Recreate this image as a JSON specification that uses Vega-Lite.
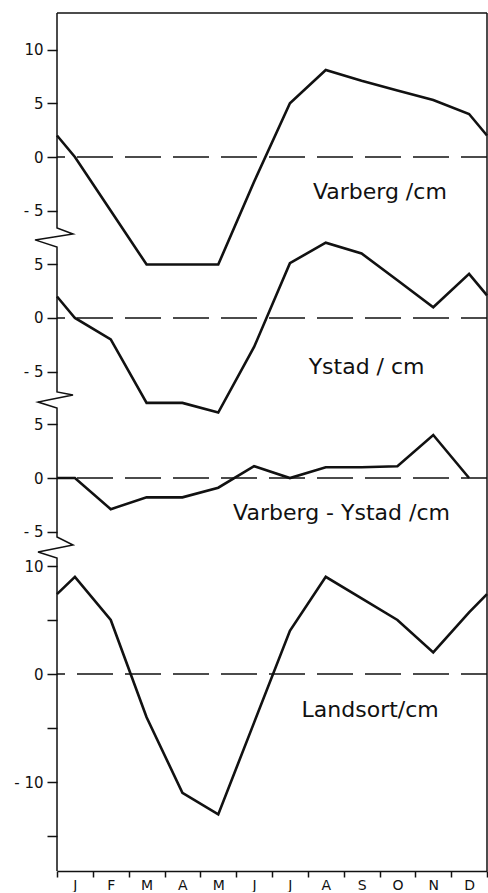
{
  "$schema": "https://vega.github.io/schema/vega-lite/v6.json",
  "background": "white",
  "padding": {"left": 5, "top": 10, "right": 0, "bottom": 0},
  "spacing": 0,
  "bounds": "flush",
  "config": {
    "view": {"stroke": null},
    "axis": {"labelFont": "DejaVu Sans", "labelColor": "#111", "labelFontSize": 15, "domainColor": "#111", "tickColor": "#111", "tickWidth": 1.5, "domainWidth": 1.5, "grid": false, "labelOverlap": false},
    "axisX": {"labelOverlap": false, "labelFontSize": 14},
    "axisY": {"labelFontSize": 15}
  },
  "resolve": {"scale": {"x": "independent", "y": "independent"}, "axis": {"x": "independent", "y": "independent"}},
  "datasets": {
    "series": [
      {"s": "Varberg", "m": 0, "v": 2}, {"s": "Varberg", "m": 0.5, "v": 0}, {"s": "Varberg", "m": 1.5, "v": -5}, {"s": "Varberg", "m": 2.5, "v": -10}, {"s": "Varberg", "m": 3.5, "v": -10}, {"s": "Varberg", "m": 4.5, "v": -10}, {"s": "Varberg", "m": 5.5, "v": -2.3}, {"s": "Varberg", "m": 6.5, "v": 5}, {"s": "Varberg", "m": 7.5, "v": 8.1}, {"s": "Varberg", "m": 8.5, "v": 7.1}, {"s": "Varberg", "m": 9.5, "v": 6.2}, {"s": "Varberg", "m": 10.5, "v": 5.3}, {"s": "Varberg", "m": 11.5, "v": 4}, {"s": "Varberg", "m": 12, "v": 2},
      {"s": "Ystad", "m": 0, "v": 2}, {"s": "Ystad", "m": 0.5, "v": 0}, {"s": "Ystad", "m": 1.5, "v": -2}, {"s": "Ystad", "m": 2.5, "v": -7.9}, {"s": "Ystad", "m": 3.5, "v": -7.9}, {"s": "Ystad", "m": 4.5, "v": -8.8}, {"s": "Ystad", "m": 5.5, "v": -2.7}, {"s": "Ystad", "m": 6.5, "v": 5.1}, {"s": "Ystad", "m": 7.5, "v": 7}, {"s": "Ystad", "m": 8.5, "v": 6}, {"s": "Ystad", "m": 9.5, "v": 3.5}, {"s": "Ystad", "m": 10.5, "v": 1}, {"s": "Ystad", "m": 11.5, "v": 4.1}, {"s": "Ystad", "m": 12, "v": 2.1},
      {"s": "VY", "m": 0, "v": 0}, {"s": "VY", "m": 0.5, "v": 0}, {"s": "VY", "m": 1.5, "v": -2.9}, {"s": "VY", "m": 2.5, "v": -1.8}, {"s": "VY", "m": 3.5, "v": -1.8}, {"s": "VY", "m": 4.5, "v": -0.9}, {"s": "VY", "m": 5.5, "v": 1.1}, {"s": "VY", "m": 6.5, "v": 0}, {"s": "VY", "m": 7.5, "v": 1}, {"s": "VY", "m": 8.5, "v": 1}, {"s": "VY", "m": 9.5, "v": 1.1}, {"s": "VY", "m": 10.5, "v": 4}, {"s": "VY", "m": 11.5, "v": 0},
      {"s": "Landsort", "m": 0, "v": 7.4}, {"s": "Landsort", "m": 0.5, "v": 9}, {"s": "Landsort", "m": 1.5, "v": 5}, {"s": "Landsort", "m": 2.5, "v": -4}, {"s": "Landsort", "m": 3.5, "v": -11}, {"s": "Landsort", "m": 4.5, "v": -13}, {"s": "Landsort", "m": 5.5, "v": -4.5}, {"s": "Landsort", "m": 6.5, "v": 4}, {"s": "Landsort", "m": 7.5, "v": 9}, {"s": "Landsort", "m": 8.5, "v": 7}, {"s": "Landsort", "m": 9.5, "v": 5}, {"s": "Landsort", "m": 10.5, "v": 2}, {"s": "Landsort", "m": 11.5, "v": 5.7}, {"s": "Landsort", "m": 12, "v": 7.4}
    ],
    "frame": [
      {"p": 1, "i": 0, "m": 0, "v": 13.4}, {"p": 1, "i": 1, "m": 0, "v": -6.6}, {"p": 1, "i": 2, "m": 0.447, "v": -7.16}, {"p": 1, "i": 3, "m": -0.084, "v": -7.44},
      {"p": 2, "i": 0, "m": -0.084, "v": 7.53}, {"p": 2, "i": 1, "m": -0.614, "v": 7.26}, {"p": 2, "i": 2, "m": 0, "v": 6.6}, {"p": 2, "i": 3, "m": 0, "v": -6.88}, {"p": 2, "i": 4, "m": 0.447, "v": -7.16}, {"p": 2, "i": 5, "m": -0.251, "v": -7.63},
      {"p": 3, "i": 0, "m": -0.251, "v": 7.26}, {"p": 3, "i": 1, "m": -0.53, "v": 7.07}, {"p": 3, "i": 2, "m": 0, "v": 6.51}, {"p": 3, "i": 3, "m": 0, "v": -5.49}, {"p": 3, "i": 4, "m": 0.447, "v": -6.23}, {"p": 3, "i": 5, "m": 0.167, "v": -6.42},
      {"p": 4, "i": 0, "m": 0.167, "v": 11.76}, {"p": 4, "i": 1, "m": -0.53, "v": 11.3}, {"p": 4, "i": 2, "m": 0, "v": 10.74}, {"p": 4, "i": 3, "m": 0, "v": -18.24}
    ]
  },
  "vconcat": [
    {
      "width": 430, "height": 224,
      "layer": [
        {"data": {"name": "series"}, "transform": [{"filter": "datum.s == 'Varberg'"}],
         "mark": {"type": "line", "color": "#111", "strokeWidth": 2.6},
         "encoding": {
           "x": {"field": "m", "type": "quantitative", "scale": {"domain": [0, 12], "nice": false, "zero": false}, "axis": null},
           "y": {"field": "v", "type": "quantitative", "scale": {"domain": [-7.44, 13.4], "nice": false, "zero": false},
                 "axis": {"orient": "left", "values": [10, 5, 0, -5], "labelExpr": "datum.value < 0 ? '- ' + (-datum.value) : '' + datum.value", "labelFont": "DejaVu Sans", "labelFontSize": 15, "labelColor": "#111", "domain": false, "tickSize": 10, "tickWidth": 1.5, "tickColor": "#111", "labelPadding": 4, "minExtent": 52, "maxExtent": 52, "title": null}}}},
        {"data": {"values": [{}]}, "mark": {"type": "rule", "color": "#111", "strokeWidth": 1.5, "strokeDash": [36, 12], "strokeDashOffset": 10},
         "encoding": {"y": {"datum": 0, "type": "quantitative", "scale": {"domain": [-7.44, 13.4], "nice": false, "zero": false}}}},
        {"data": {"values": [{}]}, "mark": {"type": "rule", "color": "#111", "strokeWidth": 1.5},
         "encoding": {"y": {"datum": 13.4, "type": "quantitative", "scale": {"domain": [-7.44, 13.4], "nice": false, "zero": false}}}},
        {"data": {"values": [{}]}, "mark": {"type": "rule", "color": "#111", "strokeWidth": 1.5},
         "encoding": {"x": {"datum": 12, "type": "quantitative", "scale": {"domain": [0, 12], "nice": false, "zero": false}, "axis": null}}},
        {"data": {"name": "frame"}, "transform": [{"filter": "datum.p == 1"}],
         "mark": {"type": "line", "color": "#111", "strokeWidth": 1.5},
         "encoding": {
           "x": {"field": "m", "type": "quantitative", "scale": {"domain": [0, 12], "nice": false, "zero": false}, "axis": null},
           "y": {"field": "v", "type": "quantitative", "scale": {"domain": [-7.44, 13.4], "nice": false, "zero": false}},
           "order": {"field": "i", "type": "quantitative"}}},
        {"data": {"values": [{}]}, "mark": {"type": "text", "text": "Varberg /cm", "font": "DejaVu Sans", "fontSize": 22, "color": "#111", "align": "center", "baseline": "middle"},
         "encoding": {"x": {"datum": 9.01, "type": "quantitative", "scale": {"domain": [0, 12], "nice": false, "zero": false}, "axis": null},
                      "y": {"datum": -3.26, "type": "quantitative", "scale": {"domain": [-7.44, 13.4], "nice": false, "zero": false}}}}
      ]
    },
    {
      "width": 430, "height": 163,
      "layer": [
        {"data": {"name": "series"}, "transform": [{"filter": "datum.s == 'Ystad'"}],
         "mark": {"type": "line", "color": "#111", "strokeWidth": 2.6},
         "encoding": {
           "x": {"field": "m", "type": "quantitative", "scale": {"domain": [0, 12], "nice": false, "zero": false}, "axis": null},
           "y": {"field": "v", "type": "quantitative", "scale": {"domain": [-7.63, 7.53], "nice": false, "zero": false},
                 "axis": {"orient": "left", "values": [5, 0, -5], "labelExpr": "datum.value < 0 ? '- ' + (-datum.value) : '' + datum.value", "labelFont": "DejaVu Sans", "labelFontSize": 15, "labelColor": "#111", "domain": false, "tickSize": 10, "tickWidth": 1.5, "tickColor": "#111", "labelPadding": 4, "minExtent": 52, "maxExtent": 52, "title": null}}}},
        {"data": {"values": [{}]}, "mark": {"type": "rule", "color": "#111", "strokeWidth": 1.5, "strokeDash": [36, 12], "strokeDashOffset": 10},
         "encoding": {"y": {"datum": 0, "type": "quantitative", "scale": {"domain": [-7.63, 7.53], "nice": false, "zero": false}}}},
        {"data": {"values": [{}]}, "mark": {"type": "rule", "color": "#111", "strokeWidth": 1.5},
         "encoding": {"x": {"datum": 12, "type": "quantitative", "scale": {"domain": [0, 12], "nice": false, "zero": false}, "axis": null}}},
        {"data": {"name": "frame"}, "transform": [{"filter": "datum.p == 2"}],
         "mark": {"type": "line", "color": "#111", "strokeWidth": 1.5},
         "encoding": {
           "x": {"field": "m", "type": "quantitative", "scale": {"domain": [0, 12], "nice": false, "zero": false}, "axis": null},
           "y": {"field": "v", "type": "quantitative", "scale": {"domain": [-7.63, 7.53], "nice": false, "zero": false}},
           "order": {"field": "i", "type": "quantitative"}}},
        {"data": {"values": [{}]}, "mark": {"type": "text", "text": "Ystad / cm", "font": "DejaVu Sans", "fontSize": 22, "color": "#111", "align": "center", "baseline": "middle"},
         "encoding": {"x": {"datum": 8.64, "type": "quantitative", "scale": {"domain": [0, 12], "nice": false, "zero": false}, "axis": null},
                      "y": {"datum": -4.56, "type": "quantitative", "scale": {"domain": [-7.63, 7.53], "nice": false, "zero": false}}}}
      ]
    },
    {
      "width": 430, "height": 147,
      "layer": [
        {"data": {"name": "series"}, "transform": [{"filter": "datum.s == 'VY'"}],
         "mark": {"type": "line", "color": "#111", "strokeWidth": 2.6},
         "encoding": {
           "x": {"field": "m", "type": "quantitative", "scale": {"domain": [0, 12], "nice": false, "zero": false}, "axis": null},
           "y": {"field": "v", "type": "quantitative", "scale": {"domain": [-6.42, 7.26], "nice": false, "zero": false},
                 "axis": {"orient": "left", "values": [5, 0, -5], "labelExpr": "datum.value < 0 ? '- ' + (-datum.value) : '' + datum.value", "labelFont": "DejaVu Sans", "labelFontSize": 15, "labelColor": "#111", "domain": false, "tickSize": 10, "tickWidth": 1.5, "tickColor": "#111", "labelPadding": 4, "minExtent": 52, "maxExtent": 52, "title": null}}}},
        {"data": {"values": [{}]}, "mark": {"type": "rule", "color": "#111", "strokeWidth": 1.5, "strokeDash": [36, 12], "strokeDashOffset": 10},
         "encoding": {"y": {"datum": 0, "type": "quantitative", "scale": {"domain": [-6.42, 7.26], "nice": false, "zero": false}}}},
        {"data": {"values": [{}]}, "mark": {"type": "rule", "color": "#111", "strokeWidth": 1.5},
         "encoding": {"x": {"datum": 12, "type": "quantitative", "scale": {"domain": [0, 12], "nice": false, "zero": false}, "axis": null}}},
        {"data": {"name": "frame"}, "transform": [{"filter": "datum.p == 3"}],
         "mark": {"type": "line", "color": "#111", "strokeWidth": 1.5},
         "encoding": {
           "x": {"field": "m", "type": "quantitative", "scale": {"domain": [0, 12], "nice": false, "zero": false}, "axis": null},
           "y": {"field": "v", "type": "quantitative", "scale": {"domain": [-6.42, 7.26], "nice": false, "zero": false}},
           "order": {"field": "i", "type": "quantitative"}}},
        {"data": {"values": [{}]}, "mark": {"type": "text", "text": "Varberg - Ystad /cm", "font": "DejaVu Sans", "fontSize": 22, "color": "#111", "align": "center", "baseline": "middle"},
         "encoding": {"x": {"datum": 7.94, "type": "quantitative", "scale": {"domain": [0, 12], "nice": false, "zero": false}, "axis": null},
                      "y": {"datum": -3.26, "type": "quantitative", "scale": {"domain": [-6.42, 7.26], "nice": false, "zero": false}}}}
      ]
    },
    {
      "width": 430, "height": 324,
      "layer": [
        {"data": {"name": "series"}, "transform": [{"filter": "datum.s == 'Landsort'"}],
         "mark": {"type": "line", "color": "#111", "strokeWidth": 2.6},
         "encoding": {
           "x": {"field": "m", "type": "quantitative", "scale": {"domain": [0, 12], "nice": false, "zero": false},
                 "axis": {"orient": "bottom", "values": [0, 1, 2, 3, 4, 5, 6, 7, 8, 9, 10, 11, 12], "labelExpr": "['J','F','M','A','M','J','J','A','S','O','N','D',''][datum.value]", "labelFont": "DejaVu Sans", "labelFontSize": 14, "labelColor": "#111", "tickSize": 6, "tickWidth": 1.5, "tickColor": "#111", "labelPadding": 1, "labelOffset": 17.9, "labelFlush": false, "labelOverlap": false, "labelBound": false, "labelSeparation": 0, "domain": true, "domainWidth": 1.5, "domainColor": "#111", "title": null}},
           "y": {"field": "v", "type": "quantitative", "scale": {"domain": [-18.24, 11.76], "nice": false, "zero": false},
                 "axis": {"orient": "left", "values": [10, 5, 0, -5, -10, -15], "labelExpr": "datum.value % 10 == 0 ? (datum.value < 0 ? '- ' + (-datum.value) : '' + datum.value) : ''", "labelFont": "DejaVu Sans", "labelFontSize": 15, "labelColor": "#111", "domain": false, "tickSize": 10, "tickWidth": 1.5, "tickColor": "#111", "labelPadding": 4, "minExtent": 52, "maxExtent": 52, "title": null}}}},
        {"data": {"values": [{}]}, "mark": {"type": "rule", "color": "#111", "strokeWidth": 1.5, "strokeDash": [36, 12], "strokeDashOffset": 10},
         "encoding": {"y": {"datum": 0, "type": "quantitative", "scale": {"domain": [-18.24, 11.76], "nice": false, "zero": false}}}},
        {"data": {"values": [{}]}, "mark": {"type": "rule", "color": "#111", "strokeWidth": 1.5},
         "encoding": {"x": {"datum": 12, "type": "quantitative", "scale": {"domain": [0, 12], "nice": false, "zero": false},
                 "axis": {"orient": "bottom", "values": [0, 1, 2, 3, 4, 5, 6, 7, 8, 9, 10, 11, 12], "labelExpr": "['J','F','M','A','M','J','J','A','S','O','N','D',''][datum.value]", "labelFont": "DejaVu Sans", "labelFontSize": 14, "labelColor": "#111", "tickSize": 6, "tickWidth": 1.5, "tickColor": "#111", "labelPadding": 1, "labelOffset": 17.9, "labelFlush": false, "labelOverlap": false, "labelBound": false, "labelSeparation": 0, "domain": true, "domainWidth": 1.5, "domainColor": "#111", "title": null}}}},
        {"data": {"name": "frame"}, "transform": [{"filter": "datum.p == 4"}],
         "mark": {"type": "line", "color": "#111", "strokeWidth": 1.5},
         "encoding": {
           "x": {"field": "m", "type": "quantitative", "scale": {"domain": [0, 12], "nice": false, "zero": false},
                 "axis": {"orient": "bottom", "values": [0, 1, 2, 3, 4, 5, 6, 7, 8, 9, 10, 11, 12], "labelExpr": "['J','F','M','A','M','J','J','A','S','O','N','D',''][datum.value]", "labelFont": "DejaVu Sans", "labelFontSize": 14, "labelColor": "#111", "tickSize": 6, "tickWidth": 1.5, "tickColor": "#111", "labelPadding": 1, "labelOffset": 17.9, "labelFlush": false, "labelOverlap": false, "labelBound": false, "labelSeparation": 0, "domain": true, "domainWidth": 1.5, "domainColor": "#111", "title": null}},
           "y": {"field": "v", "type": "quantitative", "scale": {"domain": [-18.24, 11.76], "nice": false, "zero": false}},
           "order": {"field": "i", "type": "quantitative"}}},
        {"data": {"values": [{}]}, "mark": {"type": "text", "text": "Landsort/cm", "font": "DejaVu Sans", "fontSize": 22, "color": "#111", "align": "center", "baseline": "middle"},
         "encoding": {"x": {"datum": 8.74, "type": "quantitative", "scale": {"domain": [0, 12], "nice": false, "zero": false},
                 "axis": {"orient": "bottom", "values": [0, 1, 2, 3, 4, 5, 6, 7, 8, 9, 10, 11, 12], "labelExpr": "['J','F','M','A','M','J','J','A','S','O','N','D',''][datum.value]", "labelFont": "DejaVu Sans", "labelFontSize": 14, "labelColor": "#111", "tickSize": 6, "tickWidth": 1.5, "tickColor": "#111", "labelPadding": 1, "labelOffset": 17.9, "labelFlush": false, "labelOverlap": false, "labelBound": false, "labelSeparation": 0, "domain": true, "domainWidth": 1.5, "domainColor": "#111", "title": null}},
                      "y": {"datum": -3.33, "type": "quantitative", "scale": {"domain": [-18.24, 11.76], "nice": false, "zero": false}}}}
      ]
    }
  ]
}
